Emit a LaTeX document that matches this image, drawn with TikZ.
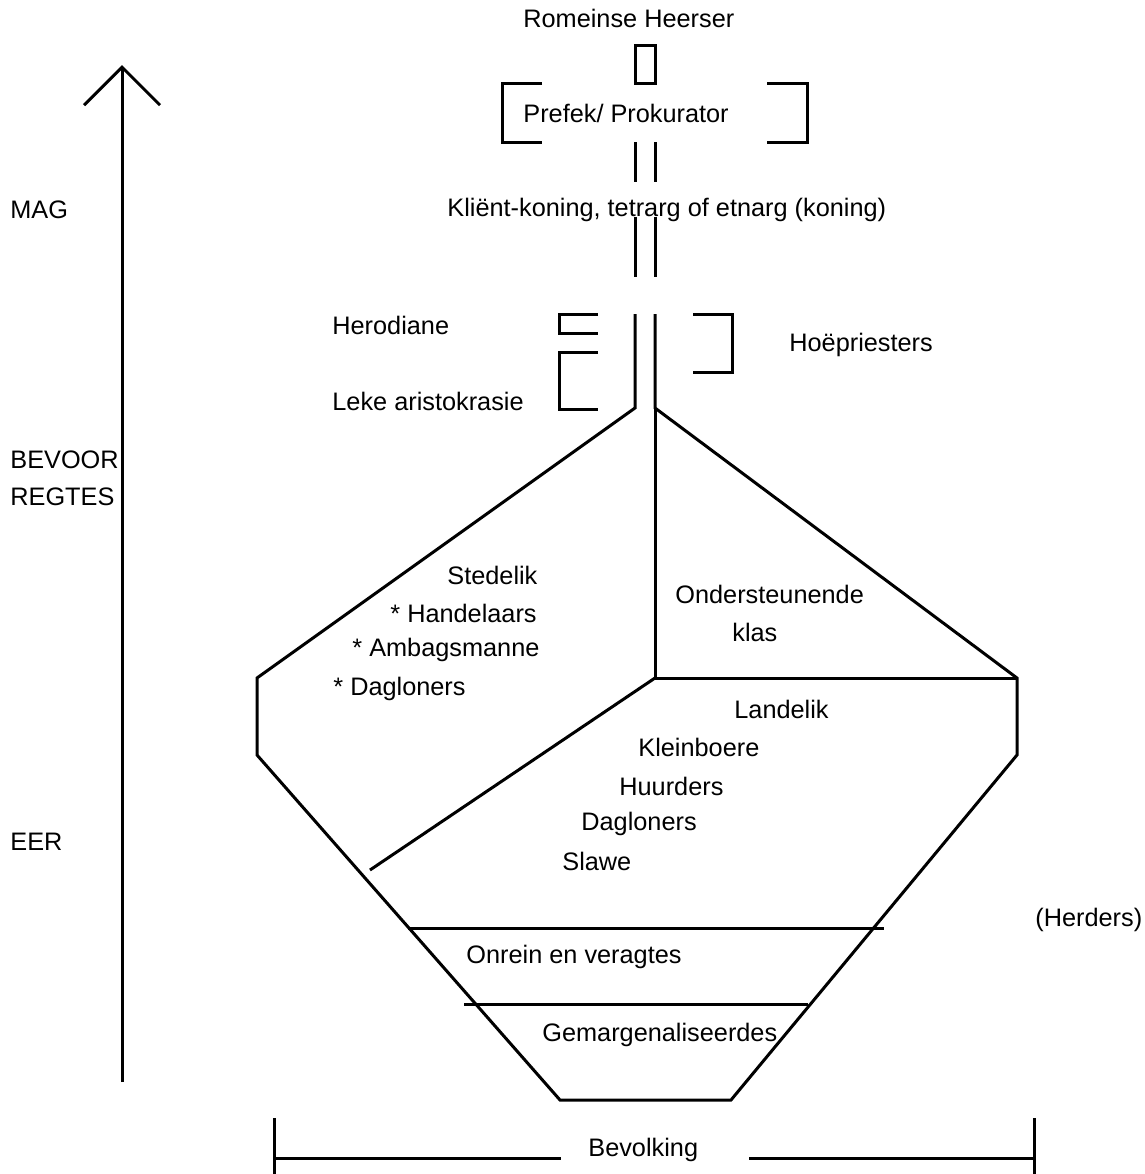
\documentclass[tikz,border=0pt]{standalone}
\usepackage{fontspec}
\setmainfont{Liberation Sans}
\usetikzlibrary{arrows.meta}

\begin{document}
\begin{tikzpicture}[x=0.5pt, y=-0.5pt,
        label/.style={anchor=west, inner sep=0pt, font=\fontsize{12.65}{15}\selectfont},
        rule/.style={line width=1.5pt},
        arrow/.style={-{Straight Barb[length=19pt, width=38pt]}, line width=1.5pt}]
        \useasboundingbox (0,0) rectangle (1145,1174);

        % Left axis
        \coordinate (axisbot) at (122,1082);
        \coordinate (axistop) at (122,65);
        \draw[arrow] (axisbot) -- (axistop);
        \node[label] (mag) at (10,210) {MAG};
        \node[label] (bevoor) at (10,460) {BEVOOR};
        \node[label] (regtes) at (10,497) {REGTES};
        \node[label] (eer) at (10,842) {EER};

        % Top of the hierarchy
        \node[label] (ruler) at (523,18) {Romeinse Heerser};
        \draw[rule] (635,45) rectangle (655,83);
        \node[label] (prefect) at (523,113) {Prefek/ Prokurator};
        \draw[rule] (542,83) -- (502,83) -- (502,142) -- (542,142);
        \draw[rule] (767,83) -- (807,83) -- (807,142) -- (767,142);
        \node[label] (king) at (447,210) {Kliënt-koning, tetrarg of etnarg (koning)};
        \draw[rule] (635,142) -- (635,182) (655,142) -- (655,182);
        \draw[rule] (635,217) -- (635,277) (655,217) -- (655,277);

        % Elite
        \node[label] (herod) at (332,325) {Herodiane};
        \node[label] (lay) at (332,401) {Leke aristokrasie};
        \node[label] (priests) at (789,345) {Hoëpriesters};
        \draw[rule] (598,314) -- (559,314) -- (559,333) -- (598,333);
        \draw[rule] (598,352) -- (559,352) -- (559,409) -- (598,409);
        \draw[rule] (693,314) -- (732,314) -- (732,372) -- (693,372);

        % Main body
        \coordinate (apexl) at (635,408);
        \coordinate (apexr) at (655,408);
        \coordinate (midc) at (655,678);
        \draw[rule] (635,314) -- (apexl) -- (257,678) -- (257,755) -- (560,1100)
            -- (731,1100) -- (1017,755) -- (1017,678) -- (apexr) -- (655,314);
        \draw[rule] (apexr) -- (midc) -- (1017,678);
        \draw[rule] (midc) -- (370,870);
        \draw[rule] (408,928) -- (884,928);
        \draw[rule] (464,1004) -- (808,1004);

        \node[label] (urban) at (447,575) {Stedelik};
        \node[label] (traders) at (390,613) {* Handelaars};
        \node[label] (crafts) at (352,650) {* Ambagsmanne};
        \node[label] (daycity) at (333,689) {* Dagloners};
        \node[label] (retain) at (675,594) {Ondersteunende};
        \node[label] (class) at (732,632) {klas};
        \node[label] (rural) at (734,709) {Landelik};
        \node[label] (farmers) at (638,747) {Kleinboere};
        \node[label] (tenants) at (619,786) {Huurders};
        \node[label] (dayrural) at (581,824) {Dagloners};
        \node[label] (slaves) at (562,861) {Slawe};
        \node[label] (herders) at (1035,920) {(Herders)};
        \node[label] (unclean) at (466,957) {Onrein en veragtes};
        \node[label] (margin) at (542,1035) {Gemargenaliseerdes};

        % Population
        \node[label] (pop) at (588,1150) {Bevolking};
        \draw[rule] (274,1158) -- (561,1158) (749,1158) -- (1034,1158);
        \draw[rule] (274,1118) -- (274,1180) (1034,1118) -- (1034,1180);
\end{tikzpicture}
\end{document}
